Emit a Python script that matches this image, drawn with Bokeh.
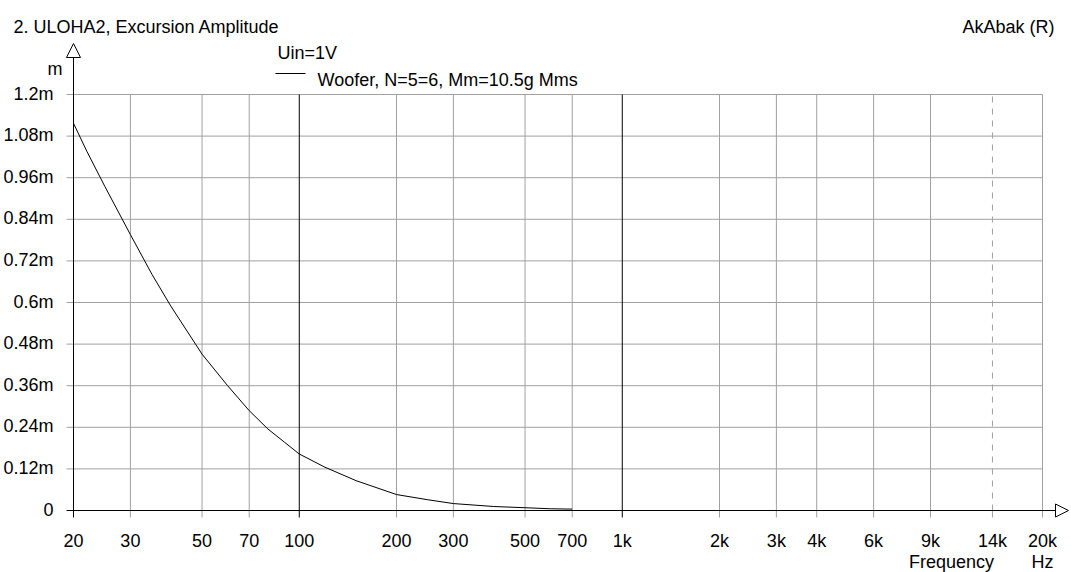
import math
from bokeh.plotting import figure
from bokeh.models import Range1d, Arrow, NormalHead
from bokeh.core.properties import value
from bokeh.embed import file_html
from bokeh.resources import INLINE

# ---------------- data ----------------
freq_hz = [20, 22, 25, 30, 35, 40, 50, 60, 70, 80, 90, 100, 120, 150,
           200, 250, 300, 400, 500, 600, 700]
excursion_mm = [1.117, 1.036, 0.935, 0.796, 0.681, 0.590, 0.451, 0.360,
                0.288, 0.235, 0.197, 0.163, 0.125, 0.086, 0.046, 0.031,
                0.020, 0.0115, 0.008, 0.005, 0.004]

x_ticks = [20, 30, 50, 70, 100, 200, 300, 500, 700, 1000, 2000, 3000,
           4000, 6000, 9000, 14000, 20000]
x_tick_labels = ["20", "30", "50", "70", "100", "200", "300", "500", "700",
                 "1k", "2k", "3k", "4k", "6k", "9k", "14k", "20k"]
x_major = [100, 1000]
x_dashed = [14000]

y_ticks = [0, 0.12, 0.24, 0.36, 0.48, 0.6, 0.72, 0.84, 0.96, 1.08, 1.2]
y_tick_labels = ["0", "0.12m", "0.24m", "0.36m", "0.48m", "0.6m", "0.72m",
                 "0.84m", "0.96m", "1.08m", "1.2m"]

title_text = "2. ULOHA2, Excursion Amplitude"
brand_text = "AkAbak (R)"
legend_title = "Uin=1V"
series_name = "Woofer, N=5=6, Mm=10.5g Mms"
y_unit = "m"
x_name = "Frequency"
x_unit = "Hz"

# ---------------- layout ----------------
W, H = 1071, 572
OFF = 0                      # page offset of the canvas
X20_PX = 73 - OFF            # canvas x of 20 Hz
PX_PER_DEC = 323.0
Y0_PX = 510 - OFF            # canvas y of 0
PX_PER_UNIT = 416.0 / 1.2

X_MIN, X_MAX = x_ticks[0], x_ticks[-1]
Y_TOP = y_ticks[-1]


def xd(img_px):
    return X_MIN * 10 ** ((img_px - OFF - X20_PX) / PX_PER_DEC)


def yd(img_px):
    return (Y0_PX - (img_px - OFF)) / PX_PER_UNIT


x_range = Range1d(xd(OFF), xd(OFF + W))
y_range = Range1d(yd(OFF + H), yd(OFF))

p = figure(width=W, height=H, x_axis_type="log", x_range=x_range,
           y_range=y_range, min_border=0, toolbar_location=None,
           output_backend="svg", x_axis_location=None, y_axis_location=None,
           outline_line_color=None, background_fill_color="white",
           border_fill_color="white")
p.xgrid.visible = False
p.ygrid.visible = False

GRID = "#a0a0a0"
FONT = value("Liberation Sans")
FS = value("18px")
tick_bottom = yd(517)

# horizontal grid lines
hy = [v for v in y_ticks if v != 0]
p.segment(x0=[xd(66)] * len(hy), x1=[X_MAX] * len(hy), y0=hy, y1=hy,
          line_color=GRID, line_width=1)

# vertical grid lines
gx = [f for f in x_ticks[1:] if f not in x_major and f not in x_dashed]
p.segment(x0=gx, x1=gx, y0=[tick_bottom] * len(gx), y1=[Y_TOP] * len(gx),
          line_color=GRID, line_width=1)
p.segment(x0=x_dashed, x1=x_dashed, y0=[0] * len(x_dashed),
          y1=[Y_TOP] * len(x_dashed), line_color=GRID, line_width=1,
          line_dash="6 6")
p.segment(x0=x_dashed, x1=x_dashed, y0=[tick_bottom] * len(x_dashed),
          y1=[0] * len(x_dashed), line_color=GRID, line_width=1)
p.segment(x0=x_major, x1=x_major, y0=[tick_bottom] * len(x_major),
          y1=[Y_TOP] * len(x_major), line_color="black", line_width=1)

# axes with hollow arrow heads
p.add_layout(Arrow(x_start=X_MIN, y_start=tick_bottom, x_end=X_MIN,
                   y_end=yd(43), line_color="black", line_width=1,
                   end=NormalHead(size=14, fill_color="white",
                                  line_color="black", line_width=1)))
p.add_layout(Arrow(x_start=xd(66), y_start=0, x_end=xd(1068), y_end=0,
                   line_color="black", line_width=1,
                   end=NormalHead(size=13, fill_color="white",
                                  line_color="black", line_width=1)))

# curve
r = p.line(freq_hz, excursion_mm, line_color="black", line_width=1)

# tick labels
p.text(x=[X_MIN] * len(y_ticks), y=y_ticks, text=y_tick_labels,
       x_offset=-20, y_offset=-1, text_align="right",
       text_baseline="alphabetic", text_font=FONT, text_font_size=FS,
       text_color="black")
p.text(x=x_ticks, y=[0] * len(x_ticks), text=x_tick_labels,
       y_offset=30, text_align="center", text_baseline="alphabetic",
       text_font=FONT, text_font_size=FS, text_color="black")

# axis names
p.text(x=[X_MIN], y=[Y_TOP], text=[y_unit], x_offset=-11, y_offset=-26,
       text_align="right", text_baseline="alphabetic", text_font=FONT,
       text_font_size=FS, text_color="black")
p.text(x=[X_MAX], y=[0], text=[x_name], x_offset=-91, y_offset=51,
       text_align="center", text_baseline="alphabetic", text_font=FONT,
       text_font_size=FS, text_color="black")
p.text(x=[X_MAX], y=[0], text=[x_unit], x_offset=0, y_offset=51,
       text_align="center", text_baseline="alphabetic", text_font=FONT,
       text_font_size=FS, text_color="black")

# title and brand
p.text(x=[X_MIN], y=[Y_TOP], text=[title_text], x_offset=13 - 73,
       y_offset=26 - 94, text_align="left", text_baseline="alphabetic",
       text_font=FONT, text_font_size=FS, text_color="black")
p.text(x=[X_MAX], y=[Y_TOP], text=[brand_text], x_offset=1054 - 1042,
       y_offset=26 - 94, text_align="right", text_baseline="alphabetic",
       text_font=FONT, text_font_size=FS, text_color="black")

# legend
p.text(x=[X_MIN], y=[Y_TOP], text=[legend_title], x_offset=277 - 73,
       y_offset=52 - 94, text_align="left", text_baseline="alphabetic",
       text_font=FONT, text_font_size=FS, text_color="black")
p.segment(x0=[xd(275)], x1=[xd(305)], y0=[yd(73)], y1=[yd(73)],
          line_color="black", line_width=1)
p.text(x=[X_MIN], y=[Y_TOP], text=[series_name], x_offset=317 - 73,
       y_offset=79 - 94, text_align="left", text_baseline="alphabetic",
       text_font=FONT, text_font_size=FS, text_color="black")

open("out.html", "w").write(file_html(p, INLINE))
